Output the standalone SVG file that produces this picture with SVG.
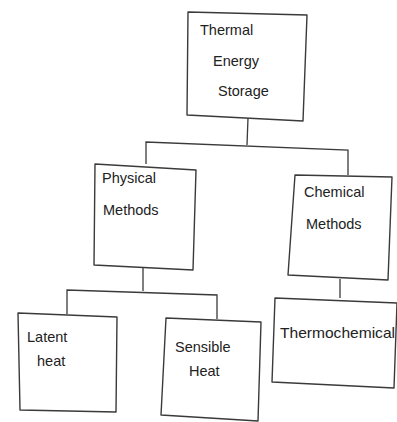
<svg xmlns="http://www.w3.org/2000/svg" width="397" height="422" viewBox="0 0 397 422">
<style>
.box{fill:#fff;stroke:#3a3a3a;stroke-width:1.4;stroke-linejoin:round}
.conn{fill:none;stroke:#3a3a3a;stroke-width:1.3}
text{font-family:"Liberation Sans",Arial,sans-serif;font-size:14.5px;fill:#222}
</style>
<rect width="397" height="422" fill="#fff"/>
<g id="connectors">
<polyline class="conn" points="248,118 247,145"/>
<polyline class="conn" points="146,164 146,142 348,150 348,175"/>
<polyline class="conn" points="143,267 143,291"/>
<polyline class="conn" points="67,314 67,290 217,295 217,319"/>
<polyline class="conn" points="340,279 340,298"/>
</g>
<g id="thermal-energy-storage">
<polygon class="box" points="188,12 307,15 303,121 187,115"/>
<text x="200" y="35">Thermal</text>
<text x="213" y="66">Energy</text>
<text x="218" y="96">Storage</text>
</g>
<g id="physical-methods">
<polygon class="box" points="95,164 196,170 193,270 94,265"/>
<text x="102" y="183">Physical</text>
<text x="103" y="215">Methods</text>
</g>
<g id="chemical-methods">
<polygon class="box" points="295,175 392,177 388,280 288,275"/>
<text x="304" y="197">Chemical</text>
<text x="306" y="229">Methods</text>
</g>
<g id="latent-heat">
<polygon class="box" points="18,313 117,317 116,412 20,410"/>
<text x="27" y="342">Latent</text>
<text x="37" y="366">heat</text>
</g>
<g id="sensible-heat">
<polygon class="box" points="166,318 261,322 258,421 161,415"/>
<text x="175" y="352">Sensible</text>
<text x="189" y="376">Heat</text>
</g>
<g id="thermochemical">
<polygon class="box" points="275,298 397,303 394,388 272,382"/>
<text x="280" y="338" textLength="115" lengthAdjust="spacingAndGlyphs">Thermochemical</text>
</g>
</svg>
